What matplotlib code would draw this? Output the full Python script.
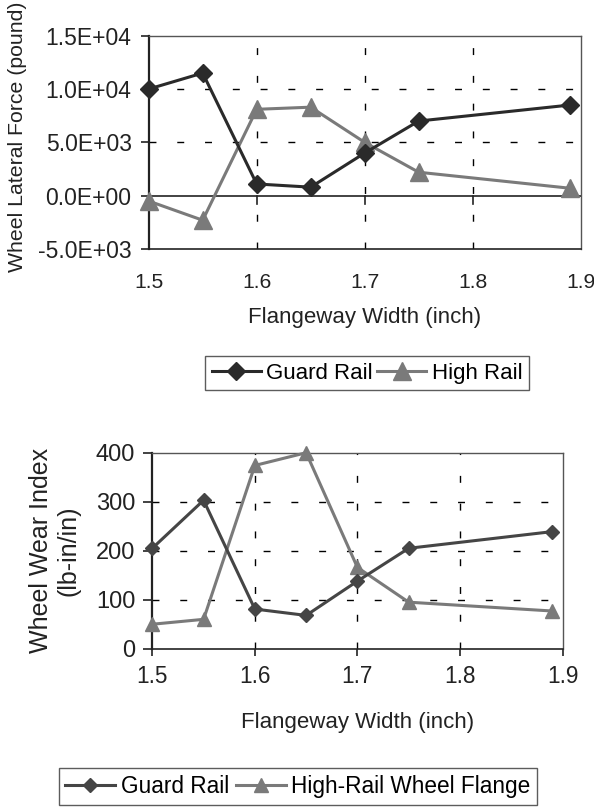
import matplotlib.pyplot as plt

# =========================
# DATOS
# =========================
ancho = [1.5, 1.55, 1.6, 1.65, 1.7, 1.75, 1.89]

fuerza_guard = [10000, 11500, 1100, 800, 4000, 7000, 8500]
fuerza_high = [-500, -2300, 8100, 8300, 5000, 2200, 700]

desgaste_guard = [205, 303, 81, 68, 138, 205, 239]
desgaste_high = [50, 60, 374, 400, 166, 95, 77]

xticks = [1.5, 1.6, 1.7, 1.8, 1.9]
yticks_fuerza = [-5000, 0, 5000, 10000, 15000]
yticks_fuerza_txt = ["-5.0E+03", "0.0E+00", "5.0E+03", "1.0E+04", "1.5E+04"]
yticks_desgaste = [0, 100, 200, 300, 400]

plt.rcParams["font.family"] = ["Liberation Sans", "DejaVu Sans"]
plt.rcParams["font.size"] = 16

fig = plt.figure(figsize=(5.94, 8.08), dpi=100)

guiones = (0, (5, 15))
texto = "#222222"


def estilo_ejes(ax, ymin, ymax, yt, grid_y):
    ax.set_xlim(1.5, 1.9)
    ax.set_ylim(ymin, ymax)
    ax.set_xticks(xticks)
    ax.set_yticks(yt)
    for v in [1.6, 1.7, 1.8]:
        ax.axvline(v, color="black", lw=1.0, ls=guiones, zorder=1)
    for v in grid_y:
        ax.axhline(v, color="black", lw=1.0, ls=guiones, zorder=1)
    ax.spines["left"].set_linewidth(1.6)
    ax.spines["left"].set_color(texto)
    ax.spines["bottom"].set_linewidth(1.2)
    ax.spines["bottom"].set_color(texto)
    for s in ["top", "right"]:
        ax.spines[s].set_linewidth(1.0)
        ax.spines[s].set_color("#555555")


# =========================
# GRÁFICA 1: FUERZA LATERAL
# =========================
ax1 = fig.add_axes([0.2503, 0.6918, 0.7273, 0.2640])
estilo_ejes(ax1, -5000, 15000, yticks_fuerza, [5000, 10000])
ax1.set_yticklabels(yticks_fuerza_txt)
ax1.tick_params(axis="y", direction="out", length=5.8, width=1.2, pad=6.5,
                colors=texto, labelcolor=texto, labelsize=16.5)
ax1.tick_params(axis="x", direction="out", length=0, pad=17, labelcolor=texto, labelsize=15.2)
ax1.axhline(0, color=texto, lw=1.2, zorder=2)
for v in [1.6, 1.7, 1.8]:
    ax1.plot([v, v], [0, -750], color=texto, lw=1.2, zorder=2)
ax1.plot(ancho, fuerza_guard, color="#2a2a2a", lw=2.2, marker="D", ms=9.5, label="Guard Rail", zorder=4, clip_on=False)
ax1.plot(ancho, fuerza_high, color="#7a7a7a", lw=2.2, marker="^", ms=13, label="High Rail", zorder=3, clip_on=False)
ax1.set_xlabel("Flangeway Width (inch)", color=texto, labelpad=11, fontsize=16)
ax1.set_ylabel("Wheel Lateral Force (pound)", color=texto, fontsize=15.3)
ax1.yaxis.set_label_coords(-0.282, 0.525)
leg1 = fig.legend(loc="center", bbox_to_anchor=(367 / 594, 1 - 373 / 808), ncol=2,
                  handles=ax1.get_lines()[-2:], frameon=True, fancybox=False,
                  edgecolor="#333333", handlelength=2.2, handletextpad=0.25,
                  columnspacing=0.2, borderpad=0.3, borderaxespad=0, fontsize=16)
leg1.get_frame().set_linewidth(1.0)

# =========================
# GRÁFICA 2: ÍNDICE DE DESGASTE
# =========================
ax2 = fig.add_axes([0.2564, 0.1971, 0.6906, 0.2426])
estilo_ejes(ax2, 0, 400, yticks_desgaste, [100, 200, 300])
ax2.tick_params(axis="y", direction="out", length=6.5, width=1.2, pad=5.8,
                colors=texto, labelcolor=texto, labelsize=17)
ax2.tick_params(axis="x", direction="out", length=5, width=1.2, pad=7,
                colors=texto, labelcolor=texto, labelsize=16.3)
ax2.plot(ancho, desgaste_guard, color="#454545", lw=2.2, marker="D", ms=7, label="Guard Rail", zorder=4, clip_on=False)
ax2.plot(ancho, desgaste_high, color="#7a7a7a", lw=2.2, marker="^", ms=9.5, label="High-Rail Wheel Flange", zorder=3, clip_on=False)
ax2.set_xlabel("Flangeway Width (inch)", color=texto, labelpad=17, fontsize=16)
ax2.set_ylabel("Wheel Wear Index\n(lb-in/in)", color=texto, linespacing=1.2, fontsize=18)
ax2.yaxis.set_label_coords(-0.175, 0.5)
leg2 = fig.legend(loc="center", bbox_to_anchor=(298 / 594, 1 - 786.5 / 808), ncol=2,
                  handles=ax2.get_lines()[-2:], frameon=True, fancybox=False,
                  edgecolor="#333333", handlelength=2.2, handletextpad=0.25,
                  columnspacing=0.3, borderpad=0.3, borderaxespad=0, fontsize=16.3)
leg2.get_frame().set_linewidth(1.0)

fig.savefig("out.png", dpi=100)
